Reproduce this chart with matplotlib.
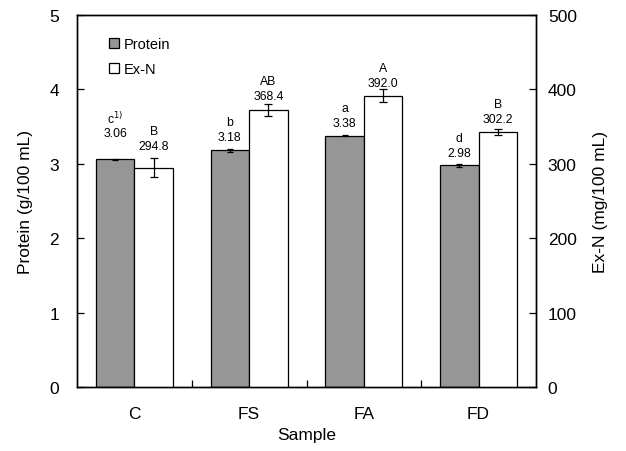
import matplotlib

matplotlib.use("Agg")
import matplotlib.pyplot as plt  # noqa: E402
import numpy as np  # noqa: E402

plt.rcParams["font.family"] = ["Liberation Sans", "DejaVu Sans"]

samples = ["C", "FS", "FA", "FD"]
protein = [3.06, 3.18, 3.38, 2.98]
protein_err = [0.01, 0.015, 0.01, 0.02]
exn = [295.0, 372.4, 391.4, 342.8]
exn_err = [12.8, 8.0, 9.0, 4.5]
protein_letters = ["c$^{1)}$", "b", "a", "d"]
protein_labels = ["3.06", "3.18", "3.38", "2.98"]
exn_letters = ["B", "AB", "A", "B"]
exn_labels = ["294.8", "368.4", "392.0", "302.2"]

# gap (points) from top of bar / error bar to centre of the value label
protein_gap = [18.5, 8.6, 8.6, 8.0]
exn_gap = [8.6, 5.5, 4.1, 6.7]
LETTER_STEP = 10.8

fig = plt.figure(figsize=(6.26, 4.52), dpi=100)
ax = fig.add_axes([77 / 626, 1 - 388 / 452, (536 - 77) / 626, (388 - 16) / 452])
ax2 = ax.twinx()

x = np.arange(1, len(samples) + 1)
w = 0.335
ax.bar(x - w / 2, protein, w, color="#969696", edgecolor="black", lw=0.9,
       yerr=protein_err, capsize=2.5, error_kw=dict(elinewidth=0.9, capthick=0.9),
       label="Protein", zorder=2)
ax2.bar(x + w / 2, exn, w, color="white", edgecolor="black", lw=0.9,
        yerr=exn_err, capsize=3, error_kw=dict(elinewidth=0.9, capthick=0.9),
        label="Ex-N", zorder=2)

for i in range(len(samples)):
    top = protein[i] + protein_err[i]
    ax.annotate(protein_labels[i], (x[i] - w / 2, top), xytext=(0, protein_gap[i]),
                textcoords="offset points", ha="center", va="center", fontsize=8.8)
    ax.annotate(protein_letters[i], (x[i] - w / 2, top),
                xytext=(0, protein_gap[i] + LETTER_STEP),
                textcoords="offset points", ha="center", va="center", fontsize=8.8)
    top2 = exn[i] + exn_err[i]
    ax2.annotate(exn_labels[i], (x[i] + w / 2, top2), xytext=(0, exn_gap[i]),
                 textcoords="offset points", ha="center", va="center", fontsize=8.8)
    ax2.annotate(exn_letters[i], (x[i] + w / 2, top2),
                 xytext=(0, exn_gap[i] + LETTER_STEP),
                 textcoords="offset points", ha="center", va="center", fontsize=8.8)

ax.set_xlim(0.5, 4.5)
ax.set_ylim(0, 5)
ax2.set_ylim(0, 500)
ax.set_xticks(x)
ax.set_xticklabels(samples)
ax.set_xticks(x[:-1] + 0.5, minor=True)
ax.tick_params(axis="x", which="major", length=0, pad=14, labelsize=12.5)
ax.tick_params(axis="x", which="minor", direction="in", length=5, width=0.9)
ax.tick_params(axis="y", direction="in", length=5, width=0.9, labelsize=12.5, pad=13)
ax2.tick_params(axis="y", direction="in", length=5, width=0.9, labelsize=12.5, pad=8.5)
ax.set_yticks(range(0, 6))
ax2.set_yticks(range(0, 501, 100))

ax.set_xlabel("Sample", fontsize=12.5, labelpad=4)
ax.set_ylabel("Protein (g/100 mL)", fontsize=12.5, labelpad=12)
ax2.set_ylabel("Ex-N (mg/100 mL)", fontsize=12.5, labelpad=12)
for a in (ax, ax2):
    for s in a.spines.values():
        s.set_linewidth(1.0)

h1, l1 = ax.get_legend_handles_labels()
h2, l2 = ax2.get_legend_handles_labels()
ax.legend(h1 + h2, l1 + l2, loc="upper left", bbox_to_anchor=(0.058, 0.957), frameon=False,
          fontsize=10.5, handlelength=0.65, handleheight=0.65, handletextpad=0.3,
          labelspacing=0.75, borderaxespad=0)

fig.savefig("out.png", dpi=100)
